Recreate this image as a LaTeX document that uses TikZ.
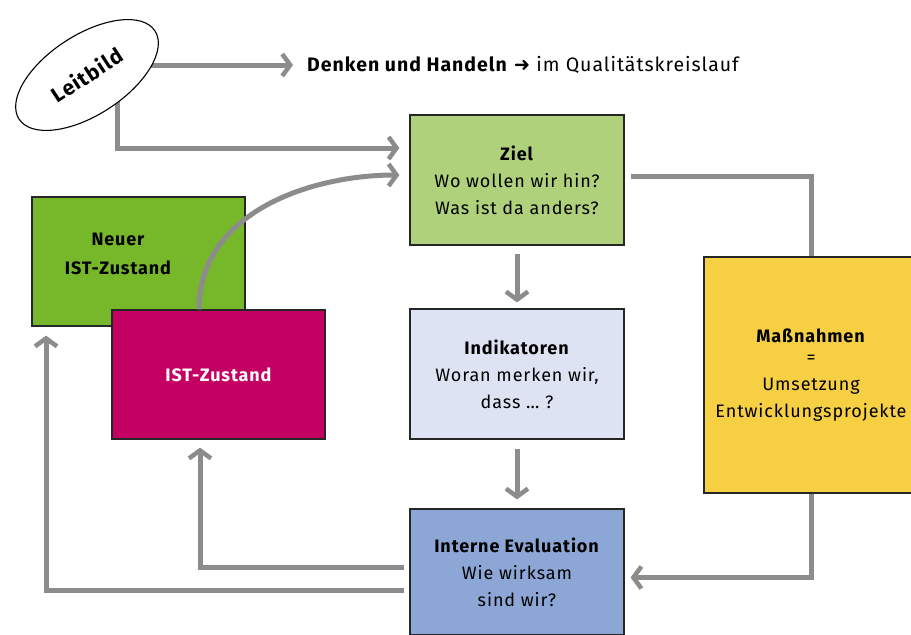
\documentclass[tikz,border=0pt]{standalone}
\usepackage{fontspec}
\setmainfont{Fira Sans}[LetterSpace=5]
\newfontfamily\symfont{DejaVu Sans}
\usepackage{tikz}
\usetikzlibrary{shapes,arrows.meta,backgrounds}

\definecolor{grau}{HTML}{8C8C8C}
\definecolor{zielgruen}{HTML}{B0D17B}
\definecolor{neugruen}{HTML}{77B72A}
\definecolor{istrot}{HTML}{C40062}
\definecolor{indblau}{HTML}{DEE3F3}
\definecolor{evalblau}{HTML}{8CA7D6}
\definecolor{massgelb}{HTML}{F6CF42}

\begin{document}
\begin{tikzpicture}[x=1pt, y=-1pt,
    box/.style={rectangle, draw=black!85, line width=1.2pt, minimum width=214pt,
        minimum height=130pt, align=center, inner sep=0pt,
        font=\fontsize{18}{27}\selectfont},
    pfeil/.style={draw=grau, line width=5pt, line join=miter,
        -{Straight Barb[length=8pt, width=22pt, line width=4.5pt]}},
    linie/.style={draw=grau, line width=5pt, line join=miter}]
    \useasboundingbox (0,0) rectangle (911,635);

    % Kopfzeile
    \node (lb)[ellipse, draw=black, line width=1.1pt, fill=white, minimum width=162pt,
        minimum height=80pt, inner sep=0pt, rotate=33,
        font=\fontsize{21}{24}\selectfont\bfseries] at (87,75) {Leitbild};
    \node (dh)[anchor=west, inner sep=0pt, font=\fontsize{19.5}{22}\selectfont] at (307,65)
        {\textbf{Denken und Handeln} {\symfont\char"279C} im Qualitätskreislauf};

    % Kreislauf
    \node (ziel)[box, fill=zielgruen] at (517,180) {\textbf{Ziel}\\Wo wollen wir hin?\\Was ist da anders?};
    \node (ind)[box, fill=indblau] at (517,374) {\textbf{Indikatoren}\\Woran merken wir,\\dass … ?};
    \node (int)[box, fill=evalblau, minimum height=126pt] at (517,572) {\textbf{Interne Evaluation}\\Wie wirksam\\sind wir?};
    \node (mn)[box, fill=massgelb, minimum height=236pt] at (811,375)
        {\textbf{Maßnahmen}\\[-6pt]=\\Umsetzung\\Entwicklungsprojekte};
    \node (neu)[box, fill=neugruen, minimum width=213pt, minimum height=129pt] at (138.5,261.5) {};
    \node (neut)[align=center, inner sep=0pt, font=\bfseries\fontsize{18}{29}\selectfont] at (118,254) {Neuer\\IST-Zustand};
    \node (ist)[box, fill=istrot, text=white, minimum width=213pt, minimum height=129pt,
        font=\bfseries\fontsize{18}{27}\selectfont] at (218.5,374.5) {IST-Zustand};

    \begin{scope}[on background layer]
        \draw[pfeil, shorten >=14pt] (lb.center |- dh.west) -- (dh.west);
        \draw[pfeil, shorten >=10pt] ([xshift=30pt]lb.center) |- ([yshift=32pt]ziel.west);
    \end{scope}
    \draw[pfeil, shorten >=10pt] ([xshift=-19.5pt]ist.north) to[out=90, in=180] ([yshift=5pt]ziel.west);
    \draw[pfeil, shorten <=8pt, shorten >=6pt] (ziel) -- (ind);
    \draw[pfeil, shorten <=9pt, shorten >=9pt] (ind) -- (int);
    \draw[linie, shorten <=6pt] ([yshift=4pt]ziel.east) -| (mn.north);
    \draw[pfeil, shorten >=6pt] (mn.south) |- ([yshift=-5.5pt]int.east);
    \draw[pfeil, shorten <=5pt, shorten >=8pt] ([yshift=4.5pt]int.west) -| ([xshift=-18.5pt]ist.south);
    \draw[pfeil, shorten <=5pt, shorten >=9pt] ([yshift=-18.5pt]int.west) -| ([xshift=-92.5pt]neu.south);
\end{tikzpicture}
\end{document}
